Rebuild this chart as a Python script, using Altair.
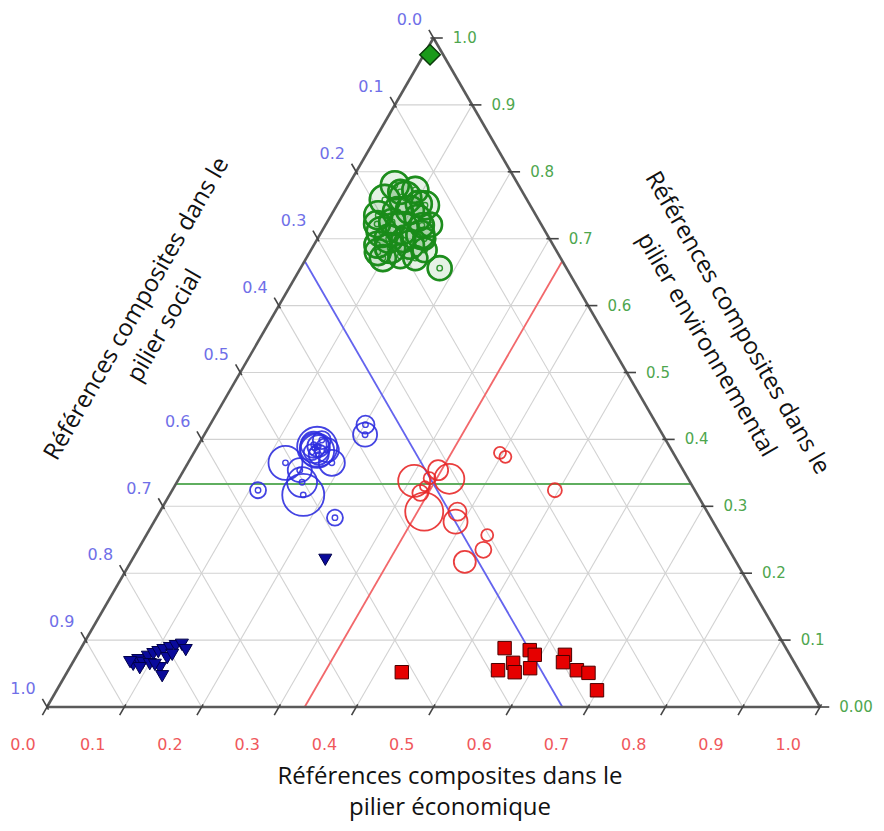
import altair as alt
import pandas as pd

H = 3 ** 0.5 / 2  # height of the unit equilateral triangle

# ---------------- data (ternary compositions: économique, environnemental; social = 1 - eco - env)
green_eco = [0.060, 0.090, 0.058, 0.083, 0.114, 0.061, 0.084, 0.114, 0.135, 0.078, 0.101,
             0.130, 0.101, 0.124, 0.147, 0.099, 0.120, 0.141, 0.084, 0.098, 0.082, 0.180,
             0.072, 0.105, 0.125, 0.092, 0.066, 0.112, 0.138, 0.088]
green_env = [0.780, 0.773, 0.758, 0.761, 0.750, 0.735, 0.740, 0.731, 0.721, 0.710, 0.716,
             0.706, 0.686, 0.691, 0.683, 0.671, 0.674, 0.671, 0.725, 0.743, 0.691, 0.656,
             0.770, 0.752, 0.720, 0.700, 0.722, 0.698, 0.700, 0.680]
green_n = [14, 13, 15, 16, 14, 14, 15, 13, 12, 15, 16, 14, 15, 14, 12, 13, 12, 12, 13, 14,
           13, 12, 12, 13, 12, 14, 13, 12, 11, 13]

blue_eco = [0.111, 0.126, 0.173, 0.162, 0.155, 0.153, 0.156, 0.152, 0.186, 0.170, 0.201,
            0.208, 0.231, 0.150, 0.156, 0.158, 0.149, 0.163]
blue_env = [0.324, 0.365, 0.317, 0.336, 0.389, 0.387, 0.390, 0.381, 0.365, 0.384, 0.422,
            0.407, 0.283, 0.354, 0.399, 0.383, 0.392, 0.377]
blue_n = [8, 17, 21, 15, 20, 15, 11, 8, 13, 12, 9, 12, 8, 12, 9, 17, 13, 10]

red_eco = [0.306, 0.350, 0.342, 0.323, 0.390, 0.385, 0.441, 0.447, 0.432, 0.396, 0.406,
           0.495, 0.324, 0.324, 0.329]
red_env = [0.338, 0.341, 0.292, 0.320, 0.277, 0.292, 0.257, 0.235, 0.217, 0.380, 0.374,
           0.324, 0.330, 0.342, 0.354]
red_n = [16, 15, 19, 8, 12, 9, 6, 8, 11, 6, 6, 7, 5, 6, 10]

tri_eco = [0.080, 0.083, 0.091, 0.093, 0.098, 0.103, 0.108, 0.115, 0.121, 0.128, 0.117,
           0.126, 0.101, 0.119, 0.091, 0.108, 0.123, 0.137, 0.074, 0.250]
tri_env = [0.063, 0.070, 0.066, 0.075, 0.079, 0.082, 0.085, 0.088, 0.091, 0.093, 0.058,
           0.046, 0.064, 0.073, 0.058, 0.063, 0.078, 0.085, 0.067, 0.220]

sq_eco = [0.548, 0.556, 0.570, 0.579, 0.582, 0.592, 0.596, 0.631, 0.634, 0.658, 0.675, 0.699, 0.433]
sq_env = [0.088, 0.055, 0.066, 0.052, 0.085, 0.078, 0.058, 0.078, 0.067, 0.055, 0.051, 0.025, 0.052]

dia_eco = [0.008]
dia_env = [0.975]

tick_vals = [0.0, 0.1, 0.2, 0.3, 0.4, 0.5, 0.6, 0.7, 0.8, 0.9, 1.0]
eco_labels = ["0.0", "0.1", "0.2", "0.3", "0.4", "0.5", "0.6", "0.7", "0.8", "0.9", "1.0"]
soc_labels = ["0.0", "0.1", "0.2", "0.3", "0.4", "0.5", "0.6", "0.7", "0.8", "0.9", "1.0"]
env_labels = ["0.00", "0.1", "0.2", "0.3", "0.4", "0.5", "0.6", "0.7", "0.8", "0.9", "1.0"]
ref_value = 1 / 3

title_line1 = "Références composites dans le"
title_eco2 = "pilier économique"
title_soc2 = "pilier social"
title_env2 = "pilier environnemental"

# ---------------- scales
xs = alt.Scale(domain=[0, 1], nice=False, zero=False)
ys = alt.Scale(domain=[0, H], nice=False, zero=False)
CALC_XY = dict(px="datum.eco + datum.env / 2", py=f"datum.env * {H}")


def segs(rows, color, width, opacity=1.0):
    df = pd.DataFrame(rows, columns=["eco1", "env1", "eco2", "env2"])
    return alt.Chart(df).transform_calculate(
        xa="datum.eco1 + datum.env1 / 2", ya=f"datum.env1 * {H}",
        xb="datum.eco2 + datum.env2 / 2", yb=f"datum.env2 * {H}",
    ).mark_rule(color=color, strokeWidth=width, opacity=opacity).encode(
        x=alt.X("xa:Q", scale=xs, axis=None),
        y=alt.Y("ya:Q", scale=ys, axis=None),
        x2="xb:Q", y2="yb:Q",
    )


inner = tick_vals[1:-1]
grid_rows = []
for k in inner:
    grid_rows.append([0, k, 1 - k, k])          # constant environnemental
    grid_rows.append([k, 0, k, 1 - k])          # constant économique
    grid_rows.append([1 - k, 0, 0, 1 - k])      # constant social
grid = segs(grid_rows, "#d2d2d2", 1.1)

edges = segs([[0, 0, 1, 0], [1, 0, 0, 1], [0, 1, 0, 0]], "#5a5a5a", 2.6)

r = ref_value
ref_env = segs([[0, r, 1 - r, r]], "#5fae5f", 2.0)
ref_eco = segs([[r, 0, r, 1 - r]], "#f2686b", 1.8)
ref_soc = segs([[1 - r, 0, 0, 1 - r]], "#6464ee", 1.8)

# tick marks (cartesian, outward along grid direction)
L1, L0 = 0.012, 0.004
tk = []
for k in tick_vals:
    bx, by = k, 0.0
    tk.append([bx + 0.5 * L0, by + H * L0, bx - 0.5 * L1, by - H * L1])
    e = 1 - k  # left edge, social = k
    lx, ly = e / 2, e * H
    tk.append([lx + 0.5 * L0, ly - H * L0, lx - 0.5 * L1, ly + H * L1])
    rx, ry = 1 - k / 2, k * H
    tk.append([rx - L0, ry, rx + L1, ry])
tick_df = pd.DataFrame(tk, columns=["x1", "y1", "x2", "y2"])
ticks = alt.Chart(tick_df).mark_rule(color="#444444", strokeWidth=1.6).encode(
    x=alt.X("x1:Q", scale=xs, axis=None), y=alt.Y("y1:Q", scale=ys, axis=None),
    x2="x2:Q", y2="y2:Q")


def pts(eco, env, n=None):
    d = {"eco": eco, "env": env}
    if n is not None:
        d["n"] = n
    return alt.Chart(pd.DataFrame(d)).transform_calculate(**CALC_XY)


XY = dict(x=alt.X("px:Q", scale=xs, axis=None), y=alt.Y("py:Q", scale=ys, axis=None))
size_outer = alt.Scale(type="pow", exponent=2, domain=[0, 20], range=[0, 1600])
size_mid = alt.Scale(type="pow", exponent=2, domain=[0, 20], range=[0, 520])


def bubbles(eco, env, n, color, width, mid=True, dot=True, fill_op=0.0):
    out = [pts(eco, env, n).mark_point(shape="circle", filled=False, color=color,
                                       fill=color, fillOpacity=fill_op,
                                       strokeWidth=width, opacity=0.9).encode(
        size=alt.Size("n:Q", scale=size_outer, legend=None), **XY)]
    if mid:
        out.append(pts(eco, env, n).mark_point(shape="circle", filled=False, color=color,
                                               strokeWidth=width * 0.8, opacity=0.85).encode(
            size=alt.Size("n:Q", scale=size_mid, legend=None), **XY))
    if dot:
        out.append(pts(eco, env, n).mark_point(shape="circle", filled=False, color=color,
                                               strokeWidth=1.4, size=30, opacity=0.9).encode(**XY))
    return out


layers = [grid, ref_env, ref_eco, ref_soc, edges, ticks]
layers += bubbles(green_eco, green_env, green_n, "#1a8c1a", 2.6, fill_op=0.12)
layers += bubbles(blue_eco, blue_env, blue_n, "#2f2fe0", 1.8, mid=False)
layers += bubbles(red_eco, red_env, red_n, "#e82a2a", 1.8, mid=False, dot=False)

layers.append(pts(tri_eco, tri_env).mark_point(
    shape="triangle-down", filled=True, fill="#0a0a9c", stroke="#00004a",
    strokeWidth=1, size=170, opacity=1).encode(**XY))
layers.append(pts(sq_eco, sq_env).mark_point(
    shape="square", filled=True, fill="#e60000", stroke="#4a0000",
    strokeWidth=1, size=180, opacity=1).encode(**XY))
layers.append(pts(dia_eco, dia_env).mark_point(
    shape="diamond", filled=True, fill="#1a9a1a", stroke="#0b3b0b",
    strokeWidth=1.5, size=420, opacity=1).encode(**XY))

# tick labels
lab_rows = []
for k, t in zip(tick_vals, eco_labels):
    lab_rows.append(["eco", t, max(k - 0.041, -0.031), -0.049])
for k, t in zip(tick_vals, soc_labels):
    e = 1 - k
    lab_rows.append(["soc", t, e / 2 - 0.031, e * H + 0.023])
lab_df = pd.DataFrame(lab_rows, columns=["axe", "label", "lx", "ly"])
env_rows = [[t, 1 - k / 2 + 0.025, k * H] for k, t in zip(tick_vals, env_labels)]
env_df = pd.DataFrame(env_rows, columns=["label", "lx", "ly"])

lab = alt.Chart(lab_df).mark_text(font="DejaVu Sans", fontSize=16, align="center",
                                  baseline="middle").encode(
    x=alt.X("lx:Q", scale=xs, axis=None), y=alt.Y("ly:Q", scale=ys, axis=None),
    text="label:N",
    color=alt.Color("axe:N", scale=alt.Scale(domain=["eco", "soc"],
                                             range=["#f0585c", "#6f6fe8"]), legend=None))
lab_env = alt.Chart(env_df).mark_text(font="DejaVu Sans", fontSize=15, align="left",
                                      baseline="middle", color="#4ea64e").encode(
    x=alt.X("lx:Q", scale=xs, axis=None), y=alt.Y("ly:Q", scale=ys, axis=None),
    text="label:N")
layers += [lab, lab_env]


def title(txt, x, y, angle=0):
    return alt.Chart(pd.DataFrame({"t": [txt]})).mark_text(
        font="Open Sans", fontSize=24, color="#111111", align="center",
        baseline="middle", angle=angle).encode(
        x=alt.value(x), y=alt.value(y), text="t:N")


layers += [
    title(title_line1, 403, 739), title(title_eco2, 403, 770),
    title(title_line1, 90, 271, 300), title(title_soc2, 118, 288, 300),
    title(title_line1, 690, 285, 60), title(title_env2, 659, 307, 60),
]

chart = alt.layer(*layers).properties(
    width=773, height=669,
    autosize=alt.AutoSizeParams(type="none"),
    padding={"left": 39, "top": 30, "right": 56, "bottom": 116},
    background="white",
).configure_view(stroke=None)

chart.save("out.html", embed_options={"renderer": "svg", "actions": False})
